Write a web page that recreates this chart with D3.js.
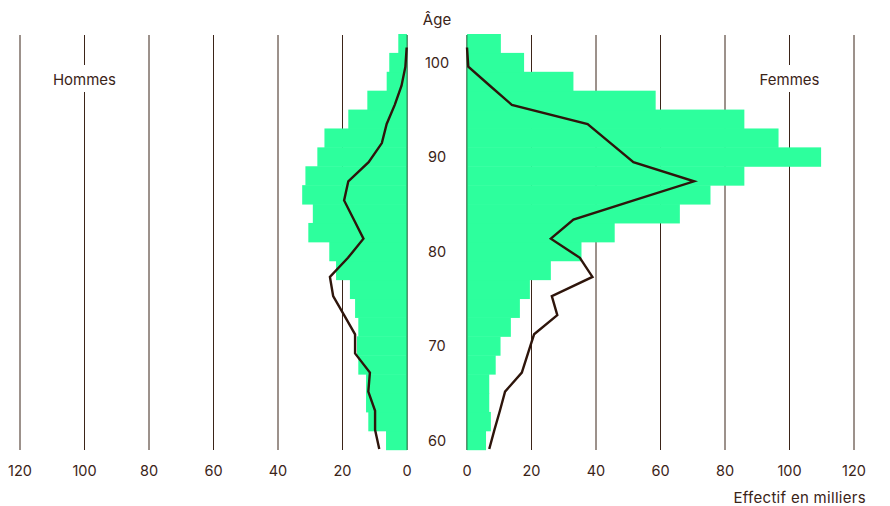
<!DOCTYPE html>
<html>
<head>
<meta charset="utf-8">
<script src="https://cdn.jsdelivr.net/npm/d3@7"></script>
<style>
	body { margin: 0; background: #fff; }
	text { font-family: Inter, "Noto Sans", sans-serif; fill: #3b2418; }
</style>
</head>
<body>
<svg id="chart" width="890" height="506"></svg>
<script>
// tranches d'âge de 2 ans (âge de début), du bas vers le haut
var ages = [59, 61, 63, 65, 67, 69, 71, 73, 75, 77, 79, 81, 83, 85, 87, 89, 91, 93, 95, 97, 99, 101];
// effectifs (milliers) - barres
var hommes = [6.5, 12.0, 12.7, 12.7, 15.1, 15.5, 15.1, 16.1, 17.7, 22.0, 24.1, 30.6, 29.2, 32.5, 31.5, 27.8, 25.6, 18.2, 12.3, 6.3, 5.5, 2.7];
var femmes = [5.9, 7.4, 6.9, 6.9, 8.9, 10.4, 13.6, 16.4, 19.5, 26.0, 35.5, 45.8, 66.0, 75.5, 86.0, 109.8, 96.6, 86.0, 58.5, 33.0, 17.7, 10.5];
// effectifs (milliers) - courbes
var hommesLigne = [8.6, 9.9, 9.9, 12.0, 11.5, 16.1, 16.1, 19.5, 22.9, 23.9, 18.3, 13.5, 16.5, 19.5, 18.2, 11.9, 7.8, 6.3, 3.8, 1.7, 0.5, 0.1];
var femmesLigne = [6.9, 8.5, 10.2, 11.8, 17.0, 18.9, 20.8, 28.0, 26.3, 38.9, 35.0, 26.0, 33.0, 51.7, 70.4, 51.6, 44.5, 37.4, 13.9, 7.1, 0.4, 0.0];
var ticksX = [0, 20, 40, 60, 80, 100, 120];
var ticksAge = [60, 70, 80, 90, 100];

var svg = d3.select("#chart");
var green = "#2dff9d";
var brown = "#3b2418";

var xL = d3.scaleLinear().domain([0, 120]).range([407, 20]);
var xR = d3.scaleLinear().domain([0, 120]).range([467, 854]);
var y = d3.scaleLinear().domain([59, 103]).range([449.7, 34]);
var yLine = d3.scaleLinear().domain([59.5, 101.5]).range([449, 47.5]);

// grille verticale
[xL, xR].forEach(function(sc) {
	svg.append("g").selectAll("line").data(ticksX).enter().append("line")
		.attr("x1", d => sc(d)).attr("x2", d => sc(d))
		.attr("y1", 35).attr("y2", 450)
		.attr("stroke", brown).attr("stroke-width", 1);
});

// libellés Hommes / Femmes (coupent la grille)
[["Hommes", xL], ["Femmes", xR]].forEach(function(p) {
	var g = svg.append("g");
	g.append("rect").attr("x", p[1](100) - 36).attr("y", 65).attr("width", 72).attr("height", 27).attr("fill", "#fff");
	g.append("text").attr("x", p[1](100)).attr("y", 79).attr("text-anchor", "middle")
		.attr("dominant-baseline", "central").attr("font-size", 15).text(p[0]);
});

// barres
svg.append("g").selectAll("rect").data(ages).enter().append("rect")
	.attr("x", (d, i) => xL(hommes[i])).attr("width", (d, i) => xL(0) - xL(hommes[i]))
	.attr("y", d => y(d + 2)).attr("height", d => y(d) - y(d + 2) + 0.5)
	.attr("fill", green);
svg.append("g").selectAll("rect").data(ages).enter().append("rect")
	.attr("x", xR(0)).attr("width", (d, i) => xR(femmes[i]) - xR(0))
	.attr("y", d => y(d + 2)).attr("height", d => y(d) - y(d + 2) + 0.5)
	.attr("fill", green);

// axe zéro
[xL(0), xR(0)].forEach(function(x) {
	svg.append("line").attr("x1", x).attr("x2", x).attr("y1", 35).attr("y2", 450)
		.attr("stroke", "#1e8f55").attr("stroke-width", 1);
});

// courbes
svg.append("path").datum(ages)
	.attr("d", d3.line().x((d, i) => xL(hommesLigne[i])).y(d => yLine(d + 0.5)))
	.attr("fill", "none").attr("stroke", "#2e150b").attr("stroke-width", 2.4);
svg.append("path").datum(ages)
	.attr("d", d3.line().x((d, i) => xR(femmesLigne[i])).y(d => yLine(d + 0.5)))
	.attr("fill", "none").attr("stroke", "#2e150b").attr("stroke-width", 2.4);

// axe des âges
svg.append("text").attr("x", 437).attr("y", 19).attr("text-anchor", "middle")
	.attr("dominant-baseline", "central").attr("font-size", 15).text("Âge");
svg.append("g").selectAll("text").data(ticksAge).enter().append("text")
	.attr("x", 437).attr("y", d => y(d)).attr("text-anchor", "middle")
	.attr("dominant-baseline", "central").attr("font-size", 14.5).text(d => d);

// graduations en bas
[xL, xR].forEach(function(sc) {
	svg.append("g").selectAll("text").data(ticksX).enter().append("text")
		.attr("x", d => sc(d)).attr("y", 470).attr("text-anchor", "middle")
		.attr("dominant-baseline", "central").attr("font-size", 14.5).text(d => d);
});
svg.append("text").attr("x", 866).attr("y", 497).attr("text-anchor", "end")
	.attr("dominant-baseline", "central").attr("font-size", 15).attr("letter-spacing", 0.3)
	.text("Effectif en milliers");
</script>
</body>
</html>
